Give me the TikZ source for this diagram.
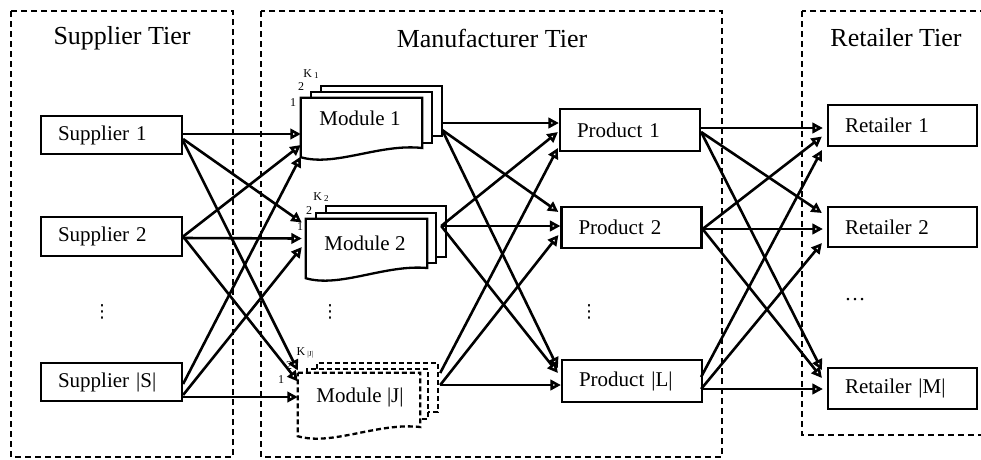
\documentclass[tikz,border=0pt]{standalone}
\usepackage{fontspec}
\setmainfont{Liberation Serif}
\newfontfamily\dejavu{DejaVu Sans}
\usetikzlibrary{arrows.meta,calc}
\begin{document}
\begin{tikzpicture}[x=1pt,y=-1pt,
  tier/.style={draw, line width=2.3pt, dash pattern=on 6pt off 4pt},
  title/.style={font=\fontsize{26}{30}\selectfont, inner sep=0pt},
  nbox/.style={draw, line width=2.2pt, inner xsep=17pt, inner ysep=0pt, align=left,
     font=\fontsize{21}{25}\selectfont},
  sbox/.style={nbox, text width=107pt, minimum height=38pt},
  pbox/.style={nbox, text width=106pt, minimum height=42pt},
  rbox/.style={nbox, text width=115pt, minimum height=41pt},
  modframe/.style={draw=none, inner sep=0pt},
  modtext/.style={font=\fontsize{21}{25}\selectfont, inner sep=0pt},
  page/.style={draw, line width=2.3pt, fill=white, line join=miter},
  dpage/.style={page, dash pattern=on 5pt off 3pt},
  lab/.style={font=\fontsize{12}{13}\selectfont, inner sep=0pt},
  vdotsn/.style={font=\dejavu\fontsize{18}{20}\selectfont, inner sep=0pt},
  hdotsn/.style={font=\fontsize{21}{25}\selectfont, inner sep=0pt},
  arr/.style={line width=2.6pt, -{Triangle[open,length=10.5pt,width=10.5pt]}}
]
\useasboundingbox (0,0) rectangle (981,459);
\clip (0,0) rectangle (981,459);

% tiers
\draw[tier] (11,11) rectangle (233,457);
\draw[tier] (261,11) rectangle (722,457);
\draw[tier] (802,11) rectangle (1000,435);
\node[title] (t1) at (122,38) {Supplier Tier};
\node[title] (t2) at (492,38) {Manufacturer Tier};
\node[title] (t3) at (896,38) {Retailer Tier};

% suppliers
\node[sbox] (s1) at (111.5,135) {Supplier 1};
\node[sbox, minimum height=39pt] (s2) at (111.5,236.5) {Supplier 2};
\node[sbox] (sS) at (111.5,382) {Supplier |S|};
\node[vdotsn] (d1) at (102,312) {⋮};

% module frames
\node[modframe, minimum width=121pt, minimum height=59pt] (m1) at (361.5,127.5) {};
\node[modframe, minimum width=121pt, minimum height=59pt] (m2) at (366.5,248.5) {};
\node[modframe, minimum width=122pt, minimum height=63pt] (mJ) at (359,404.5) {};

% module 1 pages
\draw[page] ($(m1.north west)+(20,-6)$) -- ++(0,-6) -- ++(121,0) -- ++(0,50) -- ++(-10,0);
\draw[page] ($(m1.north west)+(10,0)$) -- ++(0,-6) -- ++(121,0) -- ++(0,51) -- ++(-10,0);
\draw[page] (m1.north west) -- (m1.north east) -- ($(m1.east)+(0,20.5)$)
   .. controls ($(m1.south)+(18.5,-14)$) and ($(m1.south west)+(34,10)$) .. (m1.south west) -- cycle;
% module 2 pages
\draw[page] ($(m2.north west)+(20,-6)$) -- ++(0,-7) -- ++(120,0) -- ++(0,51) -- ++(-10,0);
\draw[page] ($(m2.north west)+(10,0)$) -- ++(0,-6) -- ++(120,0) -- ++(0,50) -- ++(-9,0);
\draw[page] (m2.north west) -- (m2.north east) -- ($(m2.east)+(0,19.5)$)
   .. controls ($(m2.south)+(18.5,-14)$) and ($(m2.south west)+(34,10)$) .. (m2.south west) -- cycle;
% module |J| pages
\draw[dpage] ($(mJ.north west)+(19,-4)$) -- ++(0,-6) -- ++(121,0) -- ++(0,49) -- ++(-10,0);
\draw[dpage] ($(mJ.north west)+(9,0)$) -- ++(0,-4) -- ++(121,0) -- ++(0,50) -- ++(-8,0);
\draw[dpage] (mJ.north west) -- (mJ.north east) -- ($(mJ.east)+(0,22.5)$)
   .. controls ($(mJ.south)+(19,-14)$) and ($(mJ.south west)+(34,10)$) .. (mJ.south west) -- cycle;

\node[modtext] (m1t) at (360,118) {Module 1};
\node[modtext] (m2t) at (365,243) {Module 2};
\node[modtext] (mJt) at (360,397) {Module |J|};
\node[vdotsn] (d2) at (330,312) {⋮};

% page labels
\node[lab] (m1a) at (293,103) {1};
\node[lab] (m1b) at (301,87) {2};
\node[lab] (m1k) at (311,74) {K\,\raisebox{-1.5pt}{\fontsize{9}{10}\selectfont 1}};
\node[lab] (m2a) at (300,227) {1};
\node[lab] (m2b) at (309,211) {2};
\node[lab] (m2k) at (321,197) {K\,\raisebox{-1.5pt}{\fontsize{9}{10}\selectfont 2}};
\node[lab] (mJa) at (281,380) {1};
\node[lab] (mJb) at (289,366) {2};
\node[lab] (mJk) at (305,353) {K\,\raisebox{-1.5pt}{\fontsize{7.5}{8}\selectfont |J|}};

% products
\node[pbox] (p1) at (630,130) {Product 1};
\node[pbox, minimum height=41pt] (p2) at (631.5,227.5) {Product 2};
\node[pbox] (pL) at (632,381) {Product |L|};
\node[vdotsn] (d3) at (589,312) {⋮};

% retailers
\node[rbox] (r1) at (902.5,125.5) {Retailer 1};
\node[rbox, minimum height=40pt] (r2) at (902.5,227) {Retailer 2};
\node[rbox] (rM) at (902.5,388.5) {Retailer |M|};
\node[hdotsn] (d4) at (855,300) {…};

% supplier -> module
\draw[arr] ($(s1.east)+(0,-1)$) -- ($(m1.west)+(0,6.5)$);
\draw[arr] ($(s1.east)+(0,4)$) -- ($(m2.west)+(-4,-26)$);
\draw[arr] ($(s1.east)+(0,6)$) -- ($(mJ.west)+(0,-34)$);
\draw[arr] (s2.east) -- ($(m1.west)+(0,17.5)$);
\draw[arr] ($(s2.east)+(0,1.5)$) -- ($(m2.west)+(-4,-10)$);
\draw[arr] (s2.east) -- ($(mJ.west)+(0,-23)$);
\draw[arr] ($(sS.east)+(0,2)$) -- ($(m1.west)+(0,29)$);
\draw[arr] ($(sS.east)+(0,13)$) -- ($(m2.west)+(-4,-1.5)$);
\draw[arr] ($(sS.east)+(0,15)$) -- ($(mJ.west)+(0,-7.5)$);

% module -> product
\draw[arr] ($(m1.east)+(20,-4.5)$) -- ($(p1.west)+(0,-7)$);
\draw[arr] ($(m1.east)+(20,2.5)$) -- ($(p2.west)+(-2,-15.5)$);
\draw[arr] ($(m1.east)+(20,2.5)$) -- ($(pL.west)+(-3,-13)$);
\draw[arr] ($(m2.east)+(14,-22.5)$) -- ($(p1.west)+(-1,2)$);
\draw[arr] ($(m2.east)+(14,-22.5)$) -- ($(p2.west)+(0,-1.5)$);
\draw[arr] ($(m2.east)+(14,-22.5)$) -- ($(pL.west)+(-3,-8)$);
\draw[arr] ($(mJ.east)+(20,-31.5)$) -- ($(p1.west)+(-1,18)$);
\draw[arr] ($(mJ.east)+(20,-19.5)$) -- ($(p2.west)+(-2,7.5)$);
\draw[arr] ($(mJ.east)+(20,-19.5)$) -- ($(pL.west)+(0,4)$);

% product -> retailer
\draw[arr] ($(p1.east)+(0,-2)$) -- ($(r1.west)+(-4,2.5)$);
\draw[arr] ($(p1.east)+(0,2)$) -- ($(r2.west)+(-5,-14)$);
\draw[arr] ($(p1.east)+(0,2)$) -- ($(rM.west)+(-5,-18.5)$);
\draw[arr] ($(p2.east)+(0,1.5)$) -- ($(r1.west)+(-5,11)$);
\draw[arr] ($(p2.east)+(0,1.5)$) -- ($(r2.west)+(-4,2)$);
\draw[arr] ($(p2.east)+(0,1.5)$) -- ($(rM.west)+(-5,-10.5)$);
\draw[arr] ($(pL.east)+(-2,-4)$) -- ($(r1.west)+(-5,24.5)$);
\draw[arr] ($(pL.east)+(-2,8)$) -- ($(r2.west)+(-5,16)$);
\draw[arr] ($(pL.east)+(-2,8)$) -- ($(rM.west)+(-4,0.5)$);
\end{tikzpicture}
\end{document}
